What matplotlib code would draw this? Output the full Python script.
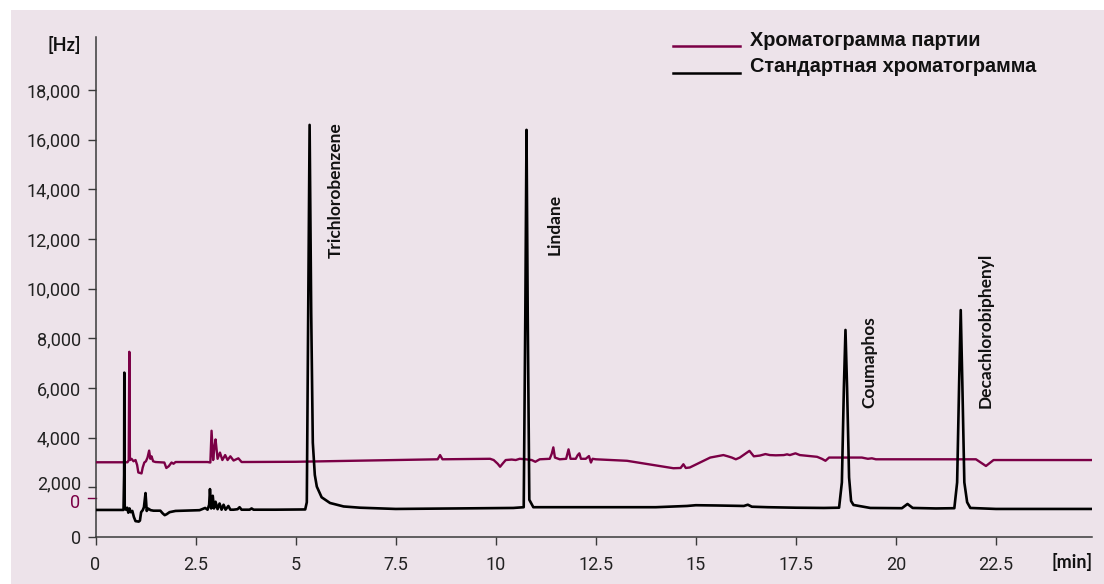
import matplotlib as mpl

mpl.use("Agg")

import matplotlib.pyplot as plt
from matplotlib.patches import Rectangle
from matplotlib.lines import Line2D
from matplotlib.transforms import ScaledTranslation

BG_PINK = "#ede3ea"
BATCH_COLOR = "#7b0046"
STD_COLOR = "#000000"
AXIS_COLOR = "#3a3a3a"
TEXT_COLOR = "#222222"

# standard chromatogram (black), time in min / signal in Hz
std_time = [
    0.0, 0.70, 0.715, 0.72, 0.73, 0.76, 0.79, 0.82, 0.85, 0.88, 0.92, 0.96, 1.00,
    1.08, 1.11, 1.14, 1.18, 1.21, 1.25, 1.28, 1.31, 1.34, 1.38, 1.45, 1.62, 1.68,
    1.73, 1.78, 1.85, 2.0, 2.6, 2.74, 2.80, 2.84, 2.86, 2.89, 2.93, 2.96, 3.00,
    3.05, 3.10, 3.15, 3.20, 3.25, 3.32, 3.37, 3.45, 3.55, 3.60, 3.65, 3.85, 3.90,
    3.95, 4.5, 5.24, 5.28, 5.31, 5.35, 5.39, 5.43, 5.48, 5.53, 5.65, 5.86, 6.2,
    6.61, 7.5, 9.0, 10.44, 10.70, 10.74, 10.77, 10.80, 10.84, 10.94, 12.0, 14.0,
    14.78, 15.0, 15.5, 16.2, 16.3, 16.4, 16.8, 17.5, 18.2, 18.58, 18.65, 18.70,
    18.74, 18.78, 18.83, 18.88, 18.94, 19.36, 20.15, 20.29, 20.42, 21.0, 21.46,
    21.53, 21.58, 21.62, 21.66, 21.71, 21.78, 21.86, 22.5, 24.9,
]
std_signal = [
    1090, 1090, 2500, 6620, 1200, 1100, 1180, 980, 1150, 1000, 1050, 800, 640,
    620, 660, 1000, 1080, 1200, 1770, 1050, 1150, 1120, 1080, 1060, 1060, 950,
    880, 920, 1000, 1050, 1080, 1170, 1100, 1300, 1930, 1150, 1660, 1150, 1420,
    1120, 1350, 1100, 1300, 1100, 1250, 1100, 1100, 1120, 1200, 1100, 1100, 1150,
    1100, 1100, 1110, 1400, 8000, 16600, 9000, 3800, 2500, 2030, 1600, 1370, 1230,
    1180, 1130, 1150, 1170, 1200, 9000, 16400, 9000, 1500, 1200, 1200, 1200,
    1250, 1280, 1270, 1250, 1300, 1220, 1200, 1180, 1170, 1180, 2200, 6000,
    8340, 6000, 2400, 1450, 1290, 1170, 1160, 1330, 1170, 1150, 1160,
    2200, 6200, 9140, 6200, 2200, 1400, 1170, 1130, 1130,
]

# batch chromatogram (purple)
batch_time = [
    0.0, 0.80, 0.83, 0.845, 0.86, 0.90, 0.95, 1.00, 1.04, 1.07, 1.15, 1.18, 1.22,
    1.26, 1.30, 1.34, 1.37, 1.40, 1.44, 1.50, 1.72, 1.77, 1.83, 1.90, 1.95, 2.0,
    2.8, 2.87, 2.90, 2.94, 2.97, 3.00, 3.05, 3.11, 3.17, 3.24, 3.30, 3.37, 3.45,
    3.57, 3.65, 5.0, 8.55, 8.61, 8.67, 9.86, 9.95, 10.05, 10.11, 10.17, 10.25,
    10.4, 10.5, 10.6, 10.75, 10.9, 10.99, 11.1, 11.35, 11.40, 11.44, 11.48, 11.6,
    11.76, 11.82, 11.87, 12.0, 12.05, 12.09, 12.13, 12.25, 12.33, 12.38, 12.42,
    12.5, 13.28, 14.44, 14.62, 14.69, 14.75, 14.85, 15.36, 15.69, 15.8, 15.9,
    16.0, 16.1, 16.34, 16.45, 16.6, 16.74, 16.85, 17.0, 17.2, 17.28, 17.35, 17.49,
    17.6, 18.03, 18.15, 18.24, 18.33, 19.15, 19.3, 19.4, 19.5, 22.0, 22.25,
    22.44, 24.9,
]
batch_signal = [
    3010, 3010, 3100, 7460, 3100, 3150, 3050, 3100, 2900, 2600, 2560, 2800, 3000,
    3050, 3200, 3480, 3150, 3250, 3050, 3020, 3000, 2780, 2850, 3000, 2950, 3020,
    3020, 3000, 4280, 3100, 3600, 3930, 3150, 3400, 3100, 3300, 3100, 3250, 3080,
    3170, 3020, 3030, 3130, 3300, 3130, 3150, 3100, 2950, 2830, 2950, 3100,
    3120, 3100, 3150, 3130, 3100, 3030, 3130, 3150, 3350, 3610, 3200, 3130,
    3150, 3530, 3150, 3150, 3300, 3370, 3150, 3150, 3260, 3000, 3150,
    3130, 3070, 2770, 2780, 2930, 2780, 2800, 3200, 3300, 3250, 3200,
    3130, 3200, 3470, 3250, 3280, 3340, 3300, 3290, 3300, 3330, 3300, 3370,
    3300, 3230, 3150, 3070, 3200, 3200, 3150, 3170, 3130, 3130, 2860,
    3100, 3100,
]

peak_names = ["Trichlorobenzene", "Lindane", "Coumaphos", "Decachlorobiphenyl"]
peak_label_time = [6.01, 11.46, 19.34, 22.24]
peak_label_base = [11240, 11360, 5180, 5180]

x_ticks = [0, 2.5, 5, 7.5, 10, 12.5, 15, 17.5, 20, 22.5]
x_tick_labels = ["0", "2.5", "5", "7.5", "10", "12.5", "15", "17.5", "20", "22.5"]
y_ticks = [0, 2000, 4000, 6000, 8000, 10000, 12000, 14000, 16000, 18000]
y_tick_labels = ["0", "2,000", "4,000", "6,000", "8,000", "10,000", "12,000",
                 "14,000", "16,000", "18,000"]
batch_zero = 1580

legend_labels = ["Хроматограмма партии", "Стандартная хроматограмма"]

TICK_FONT = ["Roboto", "DejaVu Sans"]
COND_FONT = ["Lato", "DejaVu Sans"]
BOLD_FONT = ["Liberation Sans", "DejaVu Sans"]


def main():
    W, H = 1104, 584
    fig = plt.figure(figsize=(W / 100, H / 100), dpi=100, facecolor="white")

    # pink panel behind everything
    fig.patches.append(Rectangle((11 / W, 0), 1 - 11 / W, (H - 10) / H,
                                 transform=fig.transFigure, facecolor=BG_PINK,
                                 edgecolor="none", zorder=-10))

    ax = fig.add_axes([95.5 / W, (H - 537) / H, (1092 - 95.5) / W, 500 / H])
    ax.set_facecolor("none")
    ax.set_xlim(0, 24.9)
    ax.set_ylim(0, 20140)

    ax.plot(batch_time, batch_signal, color=BATCH_COLOR, lw=1.7, zorder=3)
    ax.plot(std_time, std_signal, color=STD_COLOR, lw=1.9, zorder=4,
            solid_joinstyle="round")

    for name, t, base in zip(peak_names, peak_label_time, peak_label_base):
        ax.text(t, base, name, rotation=90, ha="center", va="bottom",
                fontsize=12.5, fontweight="bold", family=COND_FONT, color="#111111")

    for side in ("top", "right"):
        ax.spines[side].set_visible(False)
    for side in ("left", "bottom"):
        ax.spines[side].set_color(AXIS_COLOR)
        ax.spines[side].set_linewidth(1.1)

    ax.set_xticks(x_ticks)
    ax.set_xticklabels(x_tick_labels)
    ax.set_yticks(y_ticks)
    ax.set_yticklabels(y_tick_labels)
    ax.tick_params(axis="both", direction="out", length=5.5, width=1.0,
                   color=AXIS_COLOR, labelcolor=TEXT_COLOR, labelsize=13)
    ax.tick_params(axis="x", pad=8.5)
    ax.tick_params(axis="y", pad=5)
    for lab in ax.get_xticklabels() + ax.get_yticklabels():
        lab.set_family(TICK_FONT)
    # "2,000" sits a little higher to clear the purple zero mark
    lab2 = ax.get_yticklabels()[1]
    lab2.set_transform(lab2.get_transform() + ScaledTranslation(0, 5 / 100, fig.dpi_scale_trans))

    # purple zero mark for the batch trace
    ytr = ax.get_yaxis_transform()
    ax.plot([-0.0077, 0], [batch_zero, batch_zero], color=BATCH_COLOR, lw=1.0,
            transform=ytr, clip_on=False)
    ax.text(-0.0155, batch_zero - 200, "0", transform=ytr, ha="right", va="center",
            fontsize=13, family=TICK_FONT, color=BATCH_COLOR)

    # unit labels
    fig.text(81 / W, 1 - 45 / H, "[Hz]", ha="right", va="center", fontsize=13,
             fontweight="bold", family=COND_FONT, color="#111111")
    fig.text(1093 / W, 1 - 562 / H, "[min]", ha="right", va="center", fontsize=13,
             fontweight="bold", family=COND_FONT, color="#111111")

    # legend drawn by hand
    for i, (label, color) in enumerate(zip(legend_labels, [BATCH_COLOR, STD_COLOR])):
        y = 1 - (46 + 26.5 * i) / H
        fig.add_artist(Line2D([673 / W, 740 / W], [y, y], transform=fig.transFigure,
                              color=color, lw=1.8))
        fig.text(750 / W, y, label, ha="left", va="baseline", fontsize=14.3,
                 fontweight="bold", family=BOLD_FONT, color="#111111")

    fig.savefig("out.png", dpi=100, facecolor="white")
    plt.close(fig)


if __name__ == "__main__":
    main()
